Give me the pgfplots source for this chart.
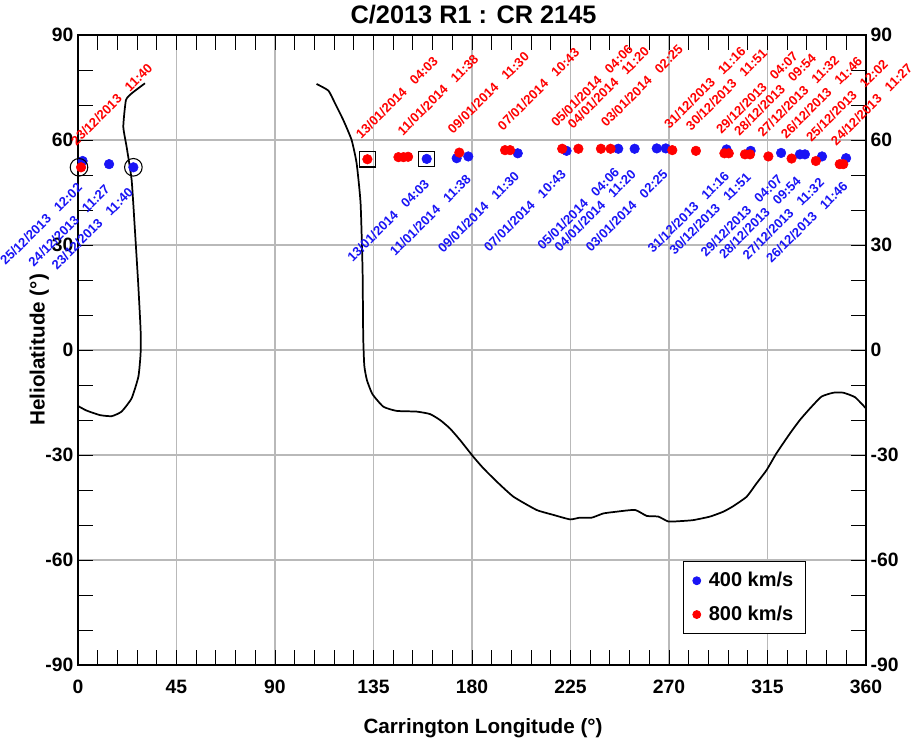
\documentclass[border=0pt]{standalone}
\usepackage{pgfplots}
\pgfplotsset{compat=1.18}
\usepackage{fontspec}
\setmainfont{Liberation Sans}
\definecolor{ptblue}{RGB}{25,20,245}
\definecolor{ptred}{RGB}{255,0,0}
\definecolor{gridgray}{RGB}{185,185,185}
\newcommand{\lbl}[2]{#1\hspace{0.8em}#2}
\tikzset{
  redlbl/.style={rotate=45, anchor=south west, inner sep=0pt, text=ptred, font=\bfseries\fontsize{9.8}{11}\selectfont},
  bluelbl/.style={rotate=45, anchor=north east, inner sep=0pt, text=ptblue, font=\bfseries\fontsize{9.8}{11}\selectfont}
}
\begin{document}
\begin{tikzpicture}
\begin{axis}[
  scale only axis, width=591pt, height=472.5pt,
  at={(0,0)}, anchor=south west,
  xmin=0, xmax=360, ymin=-90, ymax=90,
  clip=false,
  xtick={0,45,...,360}, xticklabels={0,45,90,135,180,225,270,315,360},
  ytick={-90,-60,...,90}, yticklabels={-90,-60,-30,0,30,60,90},
  minor x tick num=4, minor y tick num=2,
  tick align=inside, major tick length=11pt, minor tick length=11pt,
  tick style={black, line width=0.7pt},
  grid=major, major grid style={gridgray, line width=0.8pt},
  axis line style={line width=1.1pt},
  tick label style={font=\bfseries\fontsize{14.5}{17}\selectfont},
  xticklabel style={yshift=-7.5pt},
  xlabel={Carrington Longitude (°)},
  xlabel style={font=\bfseries\fontsize{15.5}{18}\selectfont, at={(axis description cs:0.514,-0.108)}, anchor=base},
  ylabel={Heliolatitude (°)},
  ylabel style={font=\bfseries\fontsize{15.5}{18}\selectfont, at={(axis description cs:-0.049,0.5)}, anchor=center},
  legend style={at={(axis description cs:0.7678,0.0494)}, anchor=south west, draw=black, line width=0.6pt, fill=white,
    font=\bfseries\fontsize{15}{18}\selectfont, row sep=9pt, column sep=4pt, inner xsep=7pt, inner ysep=6pt},
  legend cell align=left,
  legend image post style={mark size=3pt},
]
% 400 km/s
\addplot[only marks, mark=*, mark size=3.6pt, color=ptblue, mark options={draw=ptblue, fill=ptblue}] coordinates {
(2.1,54.0) (14.2,53.1) (25.3,52.2) (159.3,54.6) (173.0,54.8) (178.3,55.3)
(200.9,56.2) (223.2,56.9) (246.8,57.5) (254.3,57.5) (264.4,57.6) (268.5,57.6)
(296.3,57.3) (307.3,56.9) (321.2,56.3) (329.8,55.9) (332.1,55.9) (339.9,55.3) (350.9,54.8)
};
\addlegendentry{400 km/s}
% 800 km/s
\addplot[only marks, mark=*, mark size=3.6pt, color=ptred, mark options={draw=ptred, fill=ptred}] coordinates {
(1.4,52.2) (132.2,54.5) (146.4,55.1) (148.7,55.1) (150.8,55.2) (174.2,56.4)
(195.1,57.1) (197.4,57.1) (221.2,57.5) (228.6,57.5) (238.9,57.5) (243.3,57.5)
(271.5,57.1) (282.3,56.9) (295.3,56.2) (297.3,56.2) (304.7,55.9) (307.0,55.9)
(315.4,55.3) (326.0,54.7) (337.1,54.0) (348.0,53.1) (349.6,53.1)
};
\addlegendentry{800 km/s}
% first / last observation markers
\addplot[forget plot, only marks, mark=o, mark size=6.6pt, black, mark options={line width=0.8pt}] coordinates {(0.46,52.2) (25.3,52.2)};
\addplot[forget plot, only marks, mark=square, mark size=5.8pt, black, mark options={line width=0.8pt}] coordinates {(132.2,54.5) (159.3,54.6)};
% neutral line
\addplot[forget plot, black, line width=1.3pt, smooth, tension=0.3] coordinates {
(0,-16.0) (3.9,-17.3) (10,-18.6) (15.4,-18.9) (19.9,-17.6) (24.5,-13.8) (27.6,-7.6)
(28.6,-1) (28.6,5.7) (27.5,19) (26,34.3) (24.5,48.6) (22.2,58.1) (20.7,63.8) (21.9,71.4)
(24.5,73.3) (27.6,74.8) (30.6,76.2)
};
\addplot[forget plot, black, line width=1.3pt, smooth, tension=0.3] coordinates {
(109,76) (114.4,74.1) (117.4,70.5) (121.2,65.7) (125,60) (127.3,53.3) (129.1,41.9)
(130,22.9) (130.3,3.8) (130.8,-4.5) (132.0,-8.6) (134.5,-12.6) (139.5,-16.2) (145.6,-17.4)
(154.7,-17.6) (160.8,-18.3) (165.4,-20) (169.9,-22.4) (174.5,-25.7) (180.6,-30.5)
(185.2,-33.8) (191.3,-37.6) (198.9,-41.9) (209.5,-45.7) (217.1,-47.1) (224.8,-48.4)
(229.3,-47.9) (234.7,-47.9) (240,-46.7) (246,-46.2) (254.5,-45.7) (259.8,-47.4)
(265.1,-47.6) (269.7,-49.0) (275,-48.9) (281.1,-48.6) (288.7,-47.6) (294.8,-46.2)
(299.4,-44.6) (305.5,-41.9) (310,-38.1) (314.6,-34.3) (319.1,-29.5) (325.3,-23.8)
(329.8,-20) (334.4,-16.7) (339.7,-13.3) (345.1,-12.2) (349.6,-12.2) (355,-13.5) (360,-16.7)
};
% title
\node[anchor=base, font=\bfseries\fontsize{19}{22}\selectfont] at (rel axis cs:0.502,1.019) {C/2013 R1 : CR 2145};
% red labels
\node[redlbl] at (axis cs:-0.6,58.1) {\lbl{23/12/2013}{11:40}};
\node[redlbl] at (axis cs:129.6,60.0) {\lbl{13/01/2014}{04:03}};
\node[redlbl] at (axis cs:148.6,60.9) {\lbl{11/01/2014}{11:38}};
\node[redlbl] at (axis cs:171.5,61.4) {\lbl{09/01/2014}{11:30}};
\node[redlbl] at (axis cs:194.3,62.4) {\lbl{07/01/2014}{10:43}};
\node[redlbl] at (axis cs:218.7,63.3) {\lbl{05/01/2014}{04:06}};
\node[redlbl] at (axis cs:226.3,62.9) {\lbl{04/01/2014}{11:20}};
\node[redlbl] at (axis cs:241.5,63.3) {\lbl{03/01/2014}{02:25}};
\node[redlbl] at (axis cs:270.4,62.9) {\lbl{31/12/2013}{11:16}};
\node[redlbl] at (axis cs:280.3,62.4) {\lbl{30/12/2013}{11:51}};
\node[redlbl] at (axis cs:294.1,61.4) {\lbl{29/12/2013}{04:07}};
\node[redlbl] at (axis cs:302.4,60.9) {\lbl{28/12/2013}{09:54}};
\node[redlbl] at (axis cs:313.1,60.5) {\lbl{27/12/2013}{11:32}};
\node[redlbl] at (axis cs:323.7,60.0) {\lbl{26/12/2013}{11:46}};
\node[redlbl] at (axis cs:335.2,59.1) {\lbl{25/12/2013}{12:02}};
\node[redlbl] at (axis cs:346.6,58.1) {\lbl{24/12/2013}{11:27}};
% blue labels
\node[bluelbl] at (axis cs:-0.8,48.1) {\lbl{25/12/2013}{12:02}};
\node[bluelbl] at (axis cs:11.8,47.6) {\lbl{24/12/2013}{11:27}};
\node[bluelbl] at (axis cs:22.5,46.7) {\lbl{23/12/2013}{11:40}};
\node[bluelbl] at (axis cs:157.8,49.1) {\lbl{13/01/2014}{04:03}};
\node[bluelbl] at (axis cs:176.8,50.5) {\lbl{11/01/2014}{11:38}};
\node[bluelbl] at (axis cs:198.9,51.4) {\lbl{09/01/2014}{11:30}};
\node[bluelbl] at (axis cs:220.2,51.9) {\lbl{07/01/2014}{10:43}};
\node[bluelbl] at (axis cs:244.6,52.4) {\lbl{05/01/2014}{04:06}};
\node[bluelbl] at (axis cs:252.2,51.9) {\lbl{04/01/2014}{11:20}};
\node[bluelbl] at (axis cs:266.7,51.9) {\lbl{03/01/2014}{02:25}};
\node[bluelbl] at (axis cs:294.8,51.4) {\lbl{31/12/2013}{11:16}};
\node[bluelbl] at (axis cs:304.7,51.0) {\lbl{30/12/2013}{11:51}};
\node[bluelbl] at (axis cs:319.2,50.5) {\lbl{29/12/2013}{04:07}};
\node[bluelbl] at (axis cs:327.6,50.0) {\lbl{28/12/2013}{09:54}};
\node[bluelbl] at (axis cs:338.2,49.5) {\lbl{27/12/2013}{11:32}};
\node[bluelbl] at (axis cs:348.9,48.6) {\lbl{26/12/2013}{11:46}};
\end{axis}
\begin{axis}[
  scale only axis, width=591pt, height=472.5pt,
  at={(0,0)}, anchor=south west,
  xmin=0, xmax=360, ymin=-90, ymax=90,
  hide x axis, axis y line*=right,
  y axis line style={draw=none},
  ytick={-90,-60,...,90}, yticklabels={-90,-60,-30,0,30,60,90},
  major tick length=0pt, ytick style={draw=none},
  tick label style={font=\bfseries\fontsize{14.5}{17}\selectfont},
]
\addplot[draw=none, forget plot] coordinates {(0,0)};
\end{axis}
\pgfresetboundingbox
\path[use as bounding box] (-58.5pt,-60pt) rectangle (628.5pt,498.75pt);
\end{tikzpicture}
\end{document}
